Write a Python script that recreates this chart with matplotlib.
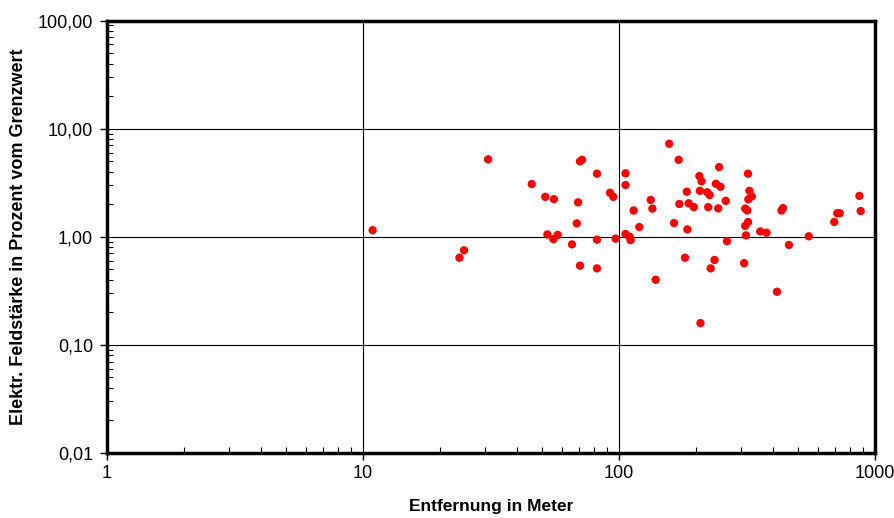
import numpy as np
import matplotlib
matplotlib.use('Agg')
import matplotlib.pyplot as plt
from matplotlib.ticker import FuncFormatter, LogLocator, NullFormatter

plt.rcParams['font.family'] = ['Liberation Sans', 'DejaVu Sans']

# Messpunkte: Entfernung (m) und Feldstaerke (% vom Grenzwert)
entfernung = [10.9, 23.8, 24.8, 30.8, 45.6, 51.5, 52.5, 55.4, 55.7, 57.6,
              65.5, 68.4, 69.2, 70.4, 70.4, 71.7, 82, 82, 82, 92.2,
              95, 97, 106, 106, 106, 110, 111, 114, 120, 133,
              135, 139, 157, 164, 171, 172, 181, 184, 185, 187,
              196, 206, 207, 208, 210, 221, 223, 226, 228, 236,
              239, 244, 246, 249, 261, 264, 308, 311, 311, 313,
              317, 319, 319, 320, 323, 330, 356, 377, 414, 431,
              437, 461, 551, 693, 712, 728, 869, 879]
feldstaerke = [1.15, 0.64, 0.75, 5.2, 3.07, 2.34, 1.05, 0.95, 2.23, 1.04,
               0.85, 1.33, 2.08, 4.98, 0.54, 5.15, 3.83, 0.94, 0.51, 2.55,
               2.34, 0.96, 3.86, 3.01, 1.06, 1.0, 0.93, 1.75, 1.23, 2.19,
               1.82, 0.40, 7.25, 1.34, 5.15, 2.01, 0.64, 2.61, 1.17, 2.04,
               1.88, 3.64, 2.66, 0.159, 3.26, 2.58, 1.88, 2.43, 0.51, 0.61,
               3.09, 1.83, 4.41, 2.90, 2.15, 0.91, 0.57, 1.82, 1.26, 1.03,
               1.75, 3.83, 1.37, 2.22, 2.66, 2.36, 1.12, 1.09, 0.31, 1.75,
               1.84, 0.84, 1.01, 1.37, 1.65, 1.65, 2.39, 1.73]

fig = plt.figure(figsize=(8.95, 5.18), dpi=100)
ax = fig.add_axes([0.1196, 0.1255, 0.8581, 0.8349])

ax.scatter(entfernung, feldstaerke, s=36, color='#ff0000', edgecolors='none', zorder=3)

ax.set_xscale('log')
ax.set_yscale('log')
ax.set_xlim(1, 1000)
ax.set_ylim(0.01, 100)

ax.xaxis.set_major_locator(LogLocator(base=10, numticks=10))
ax.yaxis.set_major_locator(LogLocator(base=10, numticks=10))
ax.xaxis.set_minor_locator(LogLocator(base=10, subs=np.arange(2, 10), numticks=20))
ax.yaxis.set_minor_locator(LogLocator(base=10, subs=np.arange(2, 10), numticks=20))
ax.xaxis.set_major_formatter(FuncFormatter(lambda v, p: '%d' % round(v)))
ax.yaxis.set_major_formatter(FuncFormatter(lambda v, p: ('%.2f' % v).replace('.', ',')))
ax.xaxis.set_minor_formatter(NullFormatter())
ax.yaxis.set_minor_formatter(NullFormatter())

ax.grid(True, which='major', color='black', linewidth=0.8)
ax.set_axisbelow(True)

for s in ax.spines.values():
    s.set_linewidth(2.5)

ax.tick_params(which='major', direction='out', length=5, width=1, labelsize=13)
ax.tick_params(which='minor', direction='in', length=4, width=0.8)
ax.tick_params(axis='x', which='major', pad=4)
ax.tick_params(axis='y', which='major', pad=5)

ax.set_xlabel('Entfernung in Meter', fontsize=12.5, fontweight='bold', labelpad=12)
ax.set_ylabel('Elektr. Feldstärke in Prozent vom Grenzwert', fontsize=13,
              fontweight='bold', labelpad=8)

fig.savefig('out.png', dpi=100)
